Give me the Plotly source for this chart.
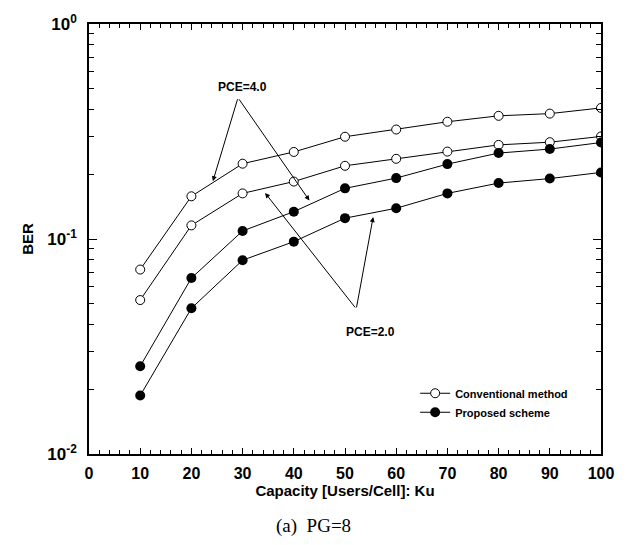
import plotly.graph_objects as go

capacity = [10, 20, 30, 40, 50, 60, 70, 80, 90, 100]
conv_pce4 = [0.0721, 0.158, 0.224, 0.254, 0.299, 0.323, 0.351, 0.374, 0.383, 0.407]
conv_pce2 = [0.052, 0.1157, 0.163, 0.185, 0.219, 0.236, 0.255, 0.274, 0.282, 0.300]
prop_pce4 = [0.0256, 0.0658, 0.109, 0.134, 0.172, 0.192, 0.223, 0.251, 0.262, 0.281]
prop_pce2 = [0.0187, 0.0476, 0.0797, 0.0972, 0.125, 0.139, 0.163, 0.182, 0.191, 0.204]

x_ticks = [0, 10, 20, 30, 40, 50, 60, 70, 80, 90, 100]
x_ticktext = ["<b>%d</b>" % v for v in x_ticks]
y_tickvals = [0.01, 0.1, 1]
y_ticktext = ["<b>10<sup>-2</sup></b>", "<b>10<sup>-1</sup></b>", "<b>10<sup>0</sup></b>"]
y_minor = [m * d for d in (0.01, 0.1) for m in range(2, 10)]
x_minor = [v for v in range(2, 100, 2) if v % 10]

FONT = "Liberation Sans"

fig = go.Figure()

open_marker = dict(symbol="circle", size=9, color="white", line=dict(width=1, color="black"))
fill_marker = dict(symbol="circle", size=10, color="black")

fig.add_trace(go.Scatter(x=capacity, y=conv_pce4, mode="lines+markers", name="<b>Conventional method</b>",
                         line=dict(color="black", width=1), marker=open_marker, legendgroup="c"))
fig.add_trace(go.Scatter(x=capacity, y=conv_pce2, mode="lines+markers", name="<b>Conventional method</b>",
                         line=dict(color="black", width=1), marker=open_marker, legendgroup="c", showlegend=False))
fig.add_trace(go.Scatter(x=capacity, y=prop_pce4, mode="lines+markers", name="<b>Proposed scheme</b>",
                         line=dict(color="black", width=1), marker=fill_marker, legendgroup="p"))
fig.add_trace(go.Scatter(x=capacity, y=prop_pce2, mode="lines+markers", name="<b>Proposed scheme</b>",
                         line=dict(color="black", width=1), marker=fill_marker, legendgroup="p", showlegend=False))

# Annotation leader lines (data coords; y in log10)
apex4 = (29.1, -0.343)
heads4 = [(24.2, -0.731), (43.05, -0.821)]
apex2 = (52.2, -1.325)
heads2 = [(34.4, -0.786), (55.5, -0.898)]

anns = []
for (hx, hy) in heads4:
    anns.append(dict(x=hx, y=hy, ax=apex4[0], ay=apex4[1], xref="x", yref="y", axref="x", ayref="y",
                     text="", showarrow=True, arrowhead=2, arrowsize=1, arrowwidth=1, arrowcolor="black"))
for (hx, hy) in heads2:
    anns.append(dict(x=hx, y=hy, ax=apex2[0], ay=apex2[1], xref="x", yref="y", axref="x", ayref="y",
                     text="", showarrow=True, arrowhead=2, arrowsize=1, arrowwidth=1, arrowcolor="black"))
anns.append(dict(x=29.9, y=-0.292, xref="x", yref="y", text="<b>PCE=4.0</b>", showarrow=False,
                 font=dict(family=FONT, size=12, color="black")))
anns.append(dict(x=55.0, y=-1.434, xref="x", yref="y", text="<b>PCE=2.0</b>", showarrow=False,
                 font=dict(family=FONT, size=12, color="black")))
# caption
anns.append(dict(x=(317 - 89) / 521, y=-0.168, xref="paper", yref="paper", text="(a)&nbsp;&nbsp;PG=8",
                 showarrow=False, xanchor="center", yanchor="middle",
                 font=dict(family="Liberation Serif", size=19, color="black")))

fig.update_layout(
    width=626, height=545,
    margin=dict(l=89, r=16, t=22, b=91),
    paper_bgcolor="white", plot_bgcolor="white",
    font=dict(family=FONT, color="black"),
    annotations=anns,
    legend=dict(x=0.637, y=0.175, xanchor="left", yanchor="top", bgcolor="rgba(0,0,0,0)",
                font=dict(family=FONT, size=11, color="black"), tracegroupgap=0,
                itemwidth=30),
    showlegend=True,
)

fig.update_xaxes(
    range=[0, 100], tickvals=x_ticks, ticktext=x_ticktext, ticks="inside", ticklen=6, tickwidth=1, tickcolor="black",
    showline=True, linecolor="black", linewidth=1.5, mirror="ticks", showgrid=False, zeroline=False,
    tickfont=dict(family=FONT, size=16, color="black"), ticklabelstandoff=4,
    minor=dict(tickvals=x_minor, ticks="inside", ticklen=4, tickwidth=1, tickcolor="black", showgrid=False),
    title=dict(text="<b>Capacity [Users/Cell]: Ku</b>", font=dict(family=FONT, size=15, color="black"), standoff=5),
)
fig.update_yaxes(
    type="log", range=[-2, 0], tickvals=y_tickvals, ticktext=y_ticktext,
    ticks="inside", ticklen=8, tickwidth=1, tickcolor="black",
    showline=True, linecolor="black", linewidth=1.5, mirror="ticks", showgrid=False, zeroline=False,
    tickfont=dict(family=FONT, size=17, color="black"), ticklabelstandoff=7,
    minor=dict(tickvals=y_minor, ticks="inside", ticklen=5, tickwidth=1, tickcolor="black", showgrid=False),
    title=dict(text="<b>BER</b>", font=dict(family=FONT, size=15, color="black"), standoff=10),
)

fig.write_html("out.html")
